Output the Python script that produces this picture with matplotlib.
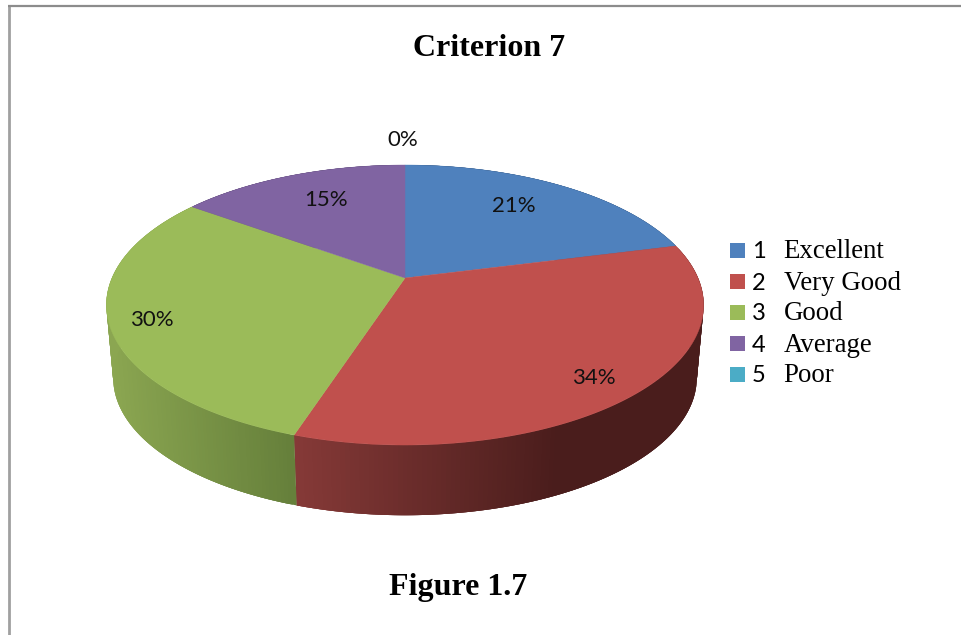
"""Criterion 7 pseudo-3D pie, drawn on an axes that runs in image pixels."""

import matplotlib

matplotlib.use("Agg")
import matplotlib.pyplot as plt
import numpy as np
from matplotlib.colors import to_rgb
from matplotlib.patches import Rectangle

codes = ["1", "2", "3", "4", "5"]
labels = ["Excellent", "Very Good", "Good", "Average", "Poor"]
values = [21, 34, 30, 15, 0]
percent_text = ["21%", "34%", "30%", "15%", "0%"]
colors = ["#4f81bd", "#c0504d", "#9bbb59", "#8064a2", "#4bacc6"]

# side shading, left and right end of the gradient
SIDE = {
    0: ("#2c4566", "#2c4566"),
    1: ("#873a38", "#4a1d1c"),
    2: ("#8ba651", "#66803b"),
    3: ("#4a3a5e", "#4a3a5e"),
    4: ("#2c6473", "#2c6473"),
}
LABEL_POS = [(514, 206), (594, 378), (152, 320), (326, 200), (403, 140)]

CX, CY = 405, 278
KV, AY, BX = 0.193, 134.8, 293.0


def top_face(theta):
    """Perspective view of the pie's circle, theta clockwise from 12 o'clock."""
    u, v = np.sin(theta), np.cos(theta)
    den = 1 + KV * v
    return CX + BX * u / den, CY - AY * v / den


def bottom_face(theta):
    x, y = top_face(theta)
    return CX + (x - CX) * 0.977, 378 + (y - 305) * 0.98


fig = plt.figure(figsize=(9.61, 6.35), dpi=100)
ax = fig.add_axes([0, 0, 1, 1])
ax.set_xlim(0, 961)
ax.set_ylim(635, 0)
ax.axis("off")

# page frame
ax.plot([8.5, 8.5], [6, 635], color="#a0a0a0", lw=2.0, solid_capstyle="butt")
ax.plot([7.5, 961], [5.5, 5.5], color="#8c8c8c", lw=1.6, solid_capstyle="butt")

edges = 2 * np.pi * np.cumsum([0] + values) / sum(values)

# walls first, the top faces cover whatever is behind them
for i, (a, b) in enumerate(zip(edges[:-1], edges[1:])):
    if b <= a:
        continue
    t = np.linspace(a, b, 160)
    x1, y1 = top_face(t)
    x2, y2 = bottom_face(t)
    left, right = np.array(to_rgb(SIDE[i][0])), np.array(to_rgb(SIDE[i][1]))
    xa, xb = (290, 560) if i == 1 else (110, 292)
    for k in range(len(t) - 1):
        mix = np.clip((x1[k] - xa) / (xb - xa), 0, 1)
        c = left + (right - left) * mix
        # each strip reaches into the next one so no seams show
        m = min(k + 3, len(t) - 1)
        ax.fill(np.r_[x1[k:m + 1], x2[k:m + 1][::-1]],
                np.r_[y1[k:m + 1], y2[k:m + 1][::-1]],
                color=c, lw=0)

for i, (a, b) in enumerate(zip(edges[:-1], edges[1:])):
    if b <= a:
        continue
    t = np.linspace(a, b, 200)
    x, y = top_face(t)
    ax.fill(np.r_[CX, x], np.r_[CY, y], color=colors[i], lw=0.3)

for txt, (px, py) in zip(percent_text, LABEL_POS):
    ax.text(px, py, txt, family="Lato", fontsize=16, color="#111111",
            ha="center", va="center")

ax.text(489, 48, "Criterion 7", family="Liberation Serif", weight="bold",
        fontsize=23, ha="center", va="center", color="black")
ax.text(458, 588, "Figure 1.7", family="Liberation Serif", weight="bold",
        fontsize=23, ha="center", va="center", color="black")

for i, (code, name) in enumerate(zip(codes, labels)):
    y = 250.5 + 31 * i
    ax.add_patch(Rectangle((730, y - 7.5), 15, 15, color=colors[i], lw=0))
    ax.text(752, y + 1.5, code, family="Lato", fontsize=17, color="black",
            ha="left", va="center")
    ax.text(783.5, y + 1.5, name, family="Liberation Serif", fontsize=19.4,
            color="black", ha="left", va="center")

fig.savefig("out.png", dpi=100)
